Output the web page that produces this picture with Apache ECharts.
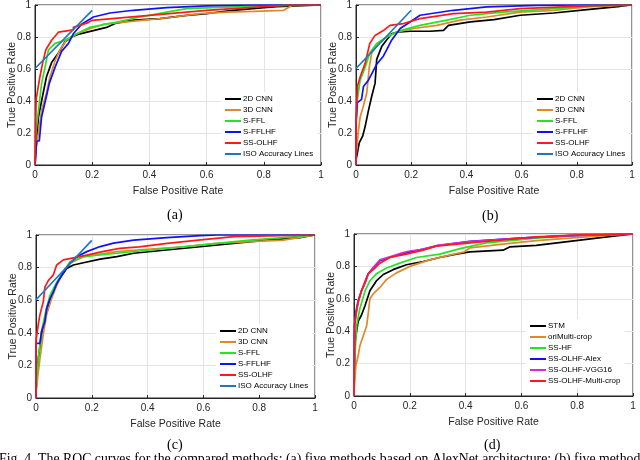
<!DOCTYPE html>
<html>
<head>
<meta charset="utf-8">
<script src="https://cdn.jsdelivr.net/npm/echarts@6/dist/echarts.min.js"></script>
<style>
html, body { margin: 0; padding: 0; background: #fff; }
#roc { width: 640px; height: 460px; }
</style>
</head>
<body>
<div id="roc"></div>
<script>
// ---- data: [FPR, TPR] ----
// (a) AlexNet
var a_cnn2d = [[0,0],[0.003,0.09],[0.012,0.30],[0.023,0.40],[0.04,0.55],[0.058,0.64],[0.082,0.70],[0.105,0.77],[0.128,0.80],[0.157,0.82],[0.204,0.84],[0.25,0.86],[0.28,0.885],[0.344,0.905],[0.437,0.915],[0.53,0.935],[0.6,0.946],[0.693,0.967],[0.8,0.983],[0.845,0.99],[1,1]];
var a_cnn3d = [[0,0],[0,0.07],[0.012,0.2],[0.023,0.34],[0.04,0.45],[0.052,0.55],[0.07,0.65],[0.087,0.72],[0.11,0.78],[0.146,0.82],[0.19,0.85],[0.24,0.88],[0.32,0.894],[0.4,0.908],[0.484,0.925],[0.577,0.946],[0.67,0.956],[0.763,0.96],[0.87,0.967],[0.9,0.998],[1,1]];
var a_sffl = [[0,0],[0.003,0.2],[0.012,0.34],[0.023,0.51],[0.035,0.61],[0.047,0.72],[0.07,0.76],[0.105,0.78],[0.146,0.82],[0.19,0.86],[0.227,0.873],[0.286,0.894],[0.367,0.925],[0.46,0.956],[0.53,0.977],[0.693,0.988],[0.87,0.998],[1,1]];
var a_sfflhf = [[0,0],[0.006,0.15],[0.015,0.15],[0.023,0.30],[0.04,0.43],[0.05,0.51],[0.07,0.61],[0.093,0.71],[0.117,0.76],[0.134,0.82],[0.163,0.88],[0.204,0.925],[0.262,0.95],[0.344,0.967],[0.46,0.983],[0.6,0.994],[0.76,1],[1,1]];
var a_ssolhf = [[0,0],[0.004,0.41],[0.017,0.55],[0.027,0.64],[0.038,0.72],[0.058,0.78],[0.082,0.83],[0.134,0.845],[0.134,0.86],[0.186,0.89],[0.2,0.904],[0.4,0.935],[0.6,0.967],[0.8,0.99],[0.9,1],[1,1]];
// (b)
var b_cnn2d = [[0,0],[0,0.03],[0.012,0.14],[0.024,0.18],[0.033,0.24],[0.045,0.34],[0.057,0.43],[0.069,0.51],[0.075,0.66],[0.093,0.74],[0.11,0.78],[0.129,0.82],[0.147,0.83],[0.196,0.836],[0.268,0.836],[0.317,0.842],[0.335,0.873],[0.414,0.894],[0.5,0.909],[0.595,0.936],[0.716,0.95],[0.837,0.971],[0.958,0.992],[1,1]];
var b_cnn3d = [[0,0],[0,0.05],[0.008,0.2],[0.015,0.3],[0.027,0.37],[0.039,0.45],[0.048,0.61],[0.057,0.70],[0.081,0.76],[0.111,0.80],[0.147,0.83],[0.208,0.853],[0.293,0.873],[0.377,0.905],[0.474,0.925],[0.595,0.956],[0.716,0.967],[0.837,0.988],[1,1]];
var b_sffl = [[0,0],[0,0.24],[0.005,0.41],[0.015,0.53],[0.033,0.61],[0.05,0.70],[0.075,0.76],[0.111,0.80],[0.16,0.84],[0.232,0.873],[0.329,0.905],[0.414,0.936],[0.534,0.956],[0.716,0.977],[0.897,0.998],[1,1]];
var b_sfflhf = [[0,0],[0,0.26],[0.005,0.39],[0.02,0.41],[0.027,0.49],[0.045,0.53],[0.063,0.59],[0.075,0.63],[0.099,0.68],[0.111,0.72],[0.129,0.78],[0.16,0.853],[0.196,0.894],[0.232,0.936],[0.353,0.967],[0.474,0.988],[0.655,0.998],[0.8,1],[1,1]];
var b_ssolhf = [[0,0],[0,0.26],[0.005,0.49],[0.015,0.55],[0.033,0.635],[0.05,0.76],[0.069,0.81],[0.099,0.84],[0.123,0.873],[0.172,0.884],[0.232,0.915],[0.353,0.946],[0.474,0.956],[0.595,0.977],[0.837,0.994],[1,1]];
// (c)
var c_cnn2d = [[0,0],[0,0.04],[0.008,0.24],[0.02,0.39],[0.032,0.49],[0.05,0.59],[0.062,0.65],[0.08,0.72],[0.11,0.795],[0.134,0.816],[0.17,0.83],[0.23,0.852],[0.29,0.867],[0.35,0.888],[0.468,0.908],[0.588,0.928],[0.707,0.949],[0.827,0.969],[0.946,0.984],[1,1]];
var c_cnn3d = [[0,0],[0,0.04],[0.014,0.24],[0.026,0.39],[0.038,0.51],[0.056,0.61],[0.074,0.69],[0.098,0.775],[0.122,0.826],[0.17,0.867],[0.29,0.898],[0.41,0.914],[0.528,0.928],[0.648,0.949],[0.767,0.959],[0.886,0.969],[1,1]];
var c_sffl = [[0,0],[0,0.04],[0.008,0.24],[0.02,0.41],[0.032,0.51],[0.05,0.63],[0.074,0.71],[0.098,0.775],[0.122,0.836],[0.17,0.867],[0.29,0.888],[0.41,0.908],[0.528,0.928],[0.648,0.949],[0.767,0.969],[0.886,0.984],[1,1]];
var c_sfflhf = [[0,0],[0,0.335],[0.014,0.335],[0.02,0.41],[0.032,0.47],[0.038,0.55],[0.05,0.61],[0.062,0.65],[0.074,0.70],[0.086,0.735],[0.104,0.785],[0.122,0.826],[0.146,0.867],[0.182,0.898],[0.23,0.929],[0.278,0.95],[0.35,0.969],[0.468,0.984],[0.588,0.996],[0.65,1],[1,1]];
var c_ssolhf = [[0,0],[0,0.04],[0,0.35],[0.008,0.45],[0.014,0.51],[0.026,0.59],[0.032,0.68],[0.044,0.72],[0.062,0.755],[0.074,0.816],[0.098,0.847],[0.134,0.86],[0.182,0.877],[0.242,0.90],[0.3,0.918],[0.37,0.927],[0.47,0.949],[0.59,0.97],[0.71,0.99],[1,1]];
// (d)
var d_stm = [[0,0],[0,0.03],[0.004,0.34],[0.015,0.46],[0.027,0.50],[0.04,0.56],[0.057,0.65],[0.08,0.71],[0.105,0.75],[0.14,0.78],[0.188,0.81],[0.248,0.83],[0.307,0.855],[0.367,0.876],[0.415,0.89],[0.534,0.9],[0.558,0.92],[0.653,0.93],[0.773,0.955],[0.892,0.979],[1,1]];
var d_orimulti = [[0,0],[0,0.03],[0.007,0.19],[0.015,0.25],[0.021,0.31],[0.033,0.37],[0.045,0.43],[0.051,0.51],[0.057,0.60],[0.069,0.63],[0.093,0.67],[0.117,0.72],[0.152,0.76],[0.2,0.80],[0.271,0.84],[0.343,0.87],[0.395,0.89],[0.415,0.914],[0.534,0.938],[0.653,0.959],[0.773,0.975],[0.892,0.99],[1,1]];
var d_sshf = [[0,0],[0,0.03],[0.004,0.27],[0.01,0.44],[0.021,0.54],[0.04,0.65],[0.057,0.71],[0.08,0.755],[0.117,0.79],[0.164,0.82],[0.224,0.855],[0.307,0.876],[0.38,0.91],[0.474,0.945],[0.653,0.975],[0.833,0.994],[1,1]];
var d_alex = [[0,0],[0,0.03],[0.002,0.44],[0.007,0.52],[0.015,0.59],[0.027,0.65],[0.04,0.70],[0.051,0.755],[0.069,0.79],[0.093,0.835],[0.128,0.855],[0.188,0.885],[0.248,0.907],[0.3,0.928],[0.415,0.955],[0.594,0.975],[0.773,0.99],[1,1]];
var d_vgg16 = [[0,0],[0,0.03],[0.002,0.43],[0.007,0.51],[0.015,0.58],[0.027,0.65],[0.04,0.70],[0.051,0.755],[0.069,0.795],[0.093,0.84],[0.14,0.866],[0.176,0.885],[0.2,0.895],[0.248,0.905],[0.3,0.93],[0.415,0.953],[0.594,0.975],[0.773,0.99],[1,1]];
var d_multicrop = [[0,0],[0,0.03],[0.002,0.42],[0.007,0.50],[0.015,0.58],[0.027,0.65],[0.04,0.71],[0.051,0.755],[0.069,0.78],[0.093,0.82],[0.128,0.855],[0.188,0.876],[0.248,0.90],[0.295,0.925],[0.474,0.955],[0.653,0.982],[0.833,0.996],[1,1]];
// iso accuracy line (same in a, b, c)
var isoLine = [[0,0.603],[0.2,0.967]];

var namesAbc = ['2D CNN', '3D CNN', 'S-FFL', 'S-FFLHF', 'SS-OLHF', 'ISO Accuracy Lines'];
var namesD = ['STM', 'oriMulti-crop', 'SS-HF', 'SS-OLHF-Alex', 'SS-OLHF-VGG16', 'SS-OLHF-Multi-crop'];

var font = 'Liberation Sans, Arial, Helvetica, sans-serif';
var serif = 'Liberation Serif, Times New Roman, serif';

var chart = echarts.init(document.getElementById('roc'));

// panel boxes (pixel)
var grids = [
    {left: 35, top: 5, width: 286, height: 160},
    {left: 356, top: 5, width: 276, height: 160},
    {left: 36, top: 235, width: 279, height: 163},
    {left: 354, top: 234, width: 279, height: 162}
];

function axisX(i) {
    return {
        type: 'value', gridIndex: i, min: 0, max: 1, interval: 0.2,
        name: 'False Positive Rate', nameLocation: 'middle', nameGap: 21,
        nameTextStyle: {fontFamily: font, fontSize: 10.5, color: '#262626'},
        axisLine: {show: true, lineStyle: {color: '#262626', width: 1}},
        axisTick: {show: true, inside: true, length: 3, lineStyle: {color: '#262626'}},
        axisLabel: {fontFamily: font, fontSize: 10, color: '#262626', margin: 5,
            formatter: function (v) { return String(+v.toFixed(1)); }},
        splitLine: {show: true, lineStyle: {color: '#e4e4e4', width: 1}}
    };
}
function axisY(i) {
    return {
        type: 'value', gridIndex: i, min: 0, max: 1, interval: 0.2,
        name: 'True Positive Rate', nameLocation: 'middle', nameGap: 17,
        nameMoveOverlap: false,
        nameTextStyle: {fontFamily: font, fontSize: 10.5, color: '#262626'},
        axisLine: {show: true, lineStyle: {color: '#262626', width: 1}},
        axisTick: {show: true, inside: true, length: 3, lineStyle: {color: '#262626'}},
        axisLabel: {fontFamily: font, fontSize: 10, color: '#262626', margin: 4,
            formatter: function (v) { return String(+v.toFixed(1)); }},
        splitLine: {show: true, lineStyle: {color: '#e4e4e4', width: 1}}
    };
}
function ln(name, data, color, i) {
    return {
        type: 'line', name: name, data: data, xAxisIndex: i, yAxisIndex: i,
        symbol: 'none', showSymbol: false, animation: false,
        lineStyle: {color: color, width: 1.7}, itemStyle: {color: color}
    };
}
function leg(names, left, top) {
    return {
        orient: 'vertical', left: left, top: top, data: names,
        icon: 'rect', itemWidth: 16, itemHeight: 2, itemGap: 3,
        backgroundColor: '#fff', padding: [3, 4, 3, 4], selectedMode: false,
        textStyle: {fontFamily: font, fontSize: 8, color: '#000', padding: [0, 0, 0, -3]}
    };
}

var cBlack = '#000000', cOrange = '#e0892a', cGreen = '#22e622', cBlue = '#1010ff',
    cRed = '#ff1a1a', cIso = '#1f77c0', cMag = '#d030d0';

var series = [];
[[a_cnn2d, a_cnn3d, a_sffl, a_sfflhf, a_ssolhf],
 [b_cnn2d, b_cnn3d, b_sffl, b_sfflhf, b_ssolhf],
 [c_cnn2d, c_cnn3d, c_sffl, c_sfflhf, c_ssolhf]].forEach(function (set, i) {
    var cols = [cBlack, cOrange, cGreen, cBlue, cRed];
    set.forEach(function (d, k) { series.push(ln(namesAbc[k], d, cols[k], i)); });
    series.push(ln(namesAbc[5], isoLine, cIso, i));
});
[d_stm, d_orimulti, d_sshf, d_alex, d_vgg16, d_multicrop].forEach(function (d, k) {
    var cols = [cBlack, cOrange, cGreen, cBlue, cMag, cRed];
    series.push(ln(namesD[k], d, cols[k], 3));
});

var option = {
    backgroundColor: '#fff',
    animation: false,
    grid: grids.map(function (g) {
        return Object.assign({show: true, borderColor: '#262626', borderWidth: 1, backgroundColor: 'transparent'}, g);
    }),
    xAxis: [axisX(0), axisX(1), axisX(2), axisX(3)],
    yAxis: [axisY(0), axisY(1), axisY(2), axisY(3)],
    legend: [
        leg(namesAbc, 221, 92),
        leg(namesAbc, 533, 92),
        leg(namesAbc, 216, 324),
        leg(namesD, 526, 319)
    ],
    series: series,
    graphic: [
        {type: 'text', left: 167, top: 208, style: {text: '(a)', font: '14px ' + serif, fill: '#000'}},
        {type: 'text', left: 482, top: 209, style: {text: '(b)', font: '14px ' + serif, fill: '#000'}},
        {type: 'text', left: 167, top: 438, style: {text: '(c)', font: '14px ' + serif, fill: '#000'}},
        {type: 'text', left: 484, top: 438, style: {text: '(d)', font: '14px ' + serif, fill: '#000'}},
        {type: 'text', left: -1, top: 452, style: {text: 'Fig. 4. The ROC curves for the compared methods: (a) five methods based on AlexNet architecture; (b) five methods', font: '13.8px ' + serif, fill: '#000'}}
    ]
};
chart.setOption(option);
</script>
</body>
</html>
